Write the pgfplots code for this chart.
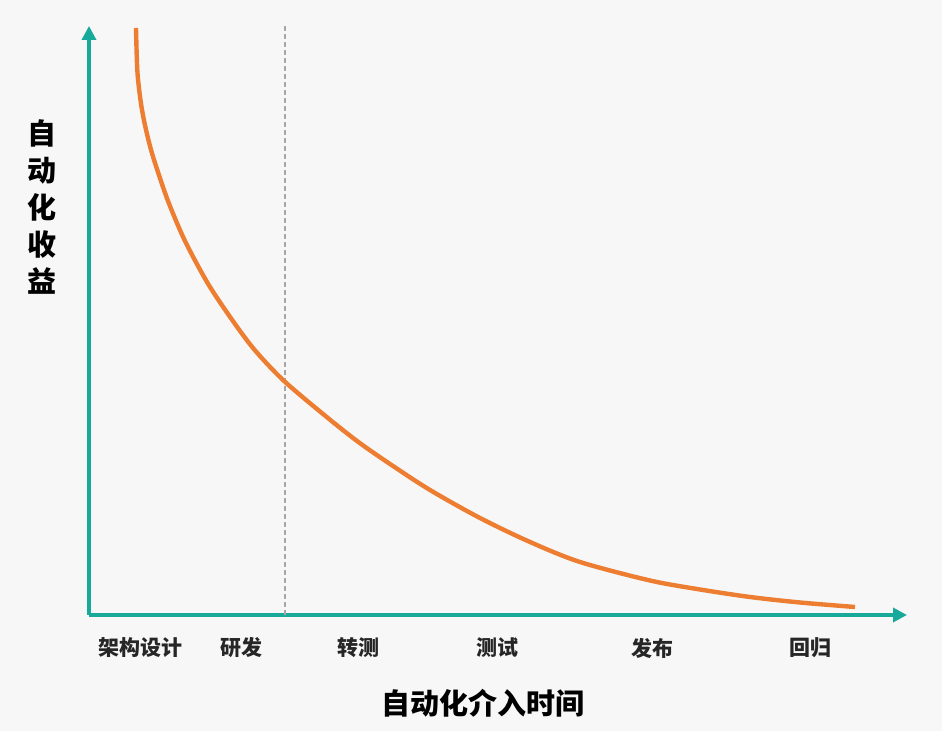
\documentclass[border=0pt]{standalone}
\usepackage{pgfplots}
\pgfplotsset{compat=1.18}
\usepackage{fontspec}
\setmainfont{Noto Sans CJK SC}
\usetikzlibrary{arrows.meta}
\definecolor{bgc}{HTML}{F7F7F7}
\definecolor{tealc}{HTML}{17A99A}
\definecolor{orangec}{HTML}{ED7D31}
\definecolor{dashc}{HTML}{A6A6A6}
\begin{document}
\begin{tikzpicture}
\begin{axis}[
  set layers=standard,
  x=0.5pt, y=0.5pt,
  xmin=89, xmax=907, ymin=116, ymax=705,
  axis lines=left,
  axis line style={tealc, line width=2pt, -{Triangle[width=7pt,length=7pt]}},
  clip=false,
  xtick={140,241,358,497,652,810},
  xticklabels={架构设计,研发,转测,测试,发布,回归},
  major tick length=0pt,
  xticklabel style={anchor=center, yshift=-16.5pt, font=\fontsize{10.5}{12}\selectfont\bfseries, text=black!85},
  ytick=\empty,
]
\begin{pgfonlayer}{axis background}
\fill[bgc] (axis cs:0,0) rectangle (axis cs:942,731);
\end{pgfonlayer}
\addplot[dashc, line width=0.7pt, dash pattern=on 2.5pt off 1.5pt] coordinates {(285,116) (285,706)};
\addplot[orangec, line width=2.2pt, smooth, tension=0.5] coordinates {
(136,703) (137.3,661) (140.2,633) (143.9,611) (149.2,588) (155,568) (168,530) (185,490)
(207,449) (228,417) (253,383) (283,351) (323,317) (357,290) (390,267) (430,241)
(480,213) (530,189) (580,169) (650,150.5) (700,141.5) (750,134) (800,128.5) (855,124)};
\node[font=\fontsize{14.5}{16}\selectfont\bfseries, text=black] at (axis cs:483,28) {自动化介入时间};
\node[font=\fontsize{14.5}{18.5}\selectfont\bfseries, text=black, align=center] at (axis cs:42,524) {自\\动\\化\\收\\益};
\end{axis}
\end{tikzpicture}
\end{document}
